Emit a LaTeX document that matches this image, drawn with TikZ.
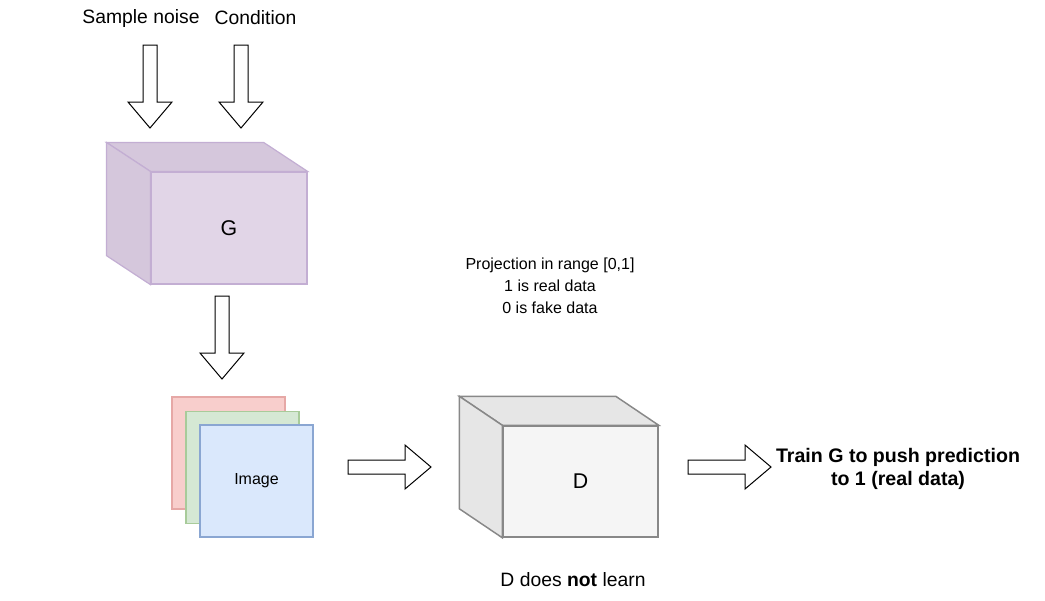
\documentclass[tikz,border=0pt]{standalone}
\usepackage{fontspec}
\setmainfont{Liberation Sans}
\definecolor{gfront}{HTML}{E1D5E7}
\definecolor{gback}{HTML}{D5C7DC}
\definecolor{gline}{HTML}{C3AED3}
\definecolor{dfront}{HTML}{F5F5F5}
\definecolor{dback}{HTML}{E6E6E6}
\definecolor{dline}{HTML}{888888}
\definecolor{redfill}{HTML}{F8CECC}\definecolor{redline}{HTML}{E6A8A6}
\definecolor{greenfill}{HTML}{D5E8D4}\definecolor{greenline}{HTML}{A8CB9A}
\definecolor{bluefill}{HTML}{DAE8FC}\definecolor{blueline}{HTML}{8AA6D2}
\tikzset{
  pics/blockarrow/.style={code={
    \draw[line width=0.75pt, fill=white] (0,-7) -- (57,-7) -- (57,-22) -- (83,0) -- (57,22) -- (57,7) -- (0,7) -- cycle;
    \coordinate (-tip) at (83,0);}},
  lbl/.style={font=\fontsize{12}{16.5}\selectfont, align=center},
  biglbl/.style={font=\fontsize{14.5}{17}\selectfont},
  layer/.style={draw, line width=0.9pt, minimum width=84.75pt, minimum height=84pt},
}
\begin{document}
\begin{tikzpicture}[x=0.75pt, y=-0.75pt]
    \useasboundingbox (0,0) rectangle (1045,600);
    \node[biglbl] (noise) at (141,18) {Sample noise}; \node[biglbl] (cond) at (255.5,18) {Condition};
    \pic[rotate=-90] (noisearrow) at (150,45) {blockarrow}; \pic[rotate=-90] (condarrow) at (241,45) {blockarrow};
    \node[draw=gline, fill=gfront, line width=0.9pt, minimum width=117pt, minimum height=84pt, font=\fontsize{16}{19}\selectfont] (G) at (229,228) {G};
    \draw[draw=gline, fill=gback, line width=0.9pt] (G.north west) -- ++(-44,-29) -- ([shift={(-44,-29)}]G.north east) -- (G.north east) -- cycle;
    \draw[draw=gline, fill=gback, line width=0.9pt] (G.north west) -- ++(-44,-29) -- ([shift={(-44,-29)}]G.south west) -- (G.south west) -- cycle;
    \pic[rotate=-90] (garrow) at (222,296) {blockarrow};
    \node[layer, draw=redline, fill=redfill] (red) at (228.5,453) {};
    \node[layer, draw=greenline, fill=greenfill] (green) at (242.5,467.5) {};
    \node[layer, draw=blueline, fill=bluefill, lbl] (image) at (256.5,481) {Image};
    \pic (imagearrow) at (348,467) {blockarrow};
    \node[draw=dline, fill=dfront, line width=1.1pt, minimum width=116.25pt, minimum height=83.25pt, font=\fontsize{16}{19}\selectfont] (D) at (580.5,481.5) {D};
    \draw[draw=dline, fill=dback, line width=1.1pt] (D.north west) -- ++(-43,-29) -- ([shift={(-43,-29)}]D.north east) -- (D.north east) -- cycle;
    \draw[draw=dline, fill=dback, line width=1.1pt] (D.north west) -- ++(-43,-29) -- ([shift={(-43,-29)}]D.south west) -- (D.south west) -- cycle;
    \pic (darrow) at (688,467) {blockarrow};
    \node[font=\fontsize{14.7}{17.25}\bfseries\selectfont, align=center] (train) at (898,469) {Train G to push prediction\\to 1 (real data)};
    \node[lbl] (proj) at (550,286) {Projection in range [0,1]\\1 is real data\\0 is fake data};
    \node[biglbl] (nolearn) at (573,580) {D does \textbf{not} learn};
\end{tikzpicture}
\end{document}
